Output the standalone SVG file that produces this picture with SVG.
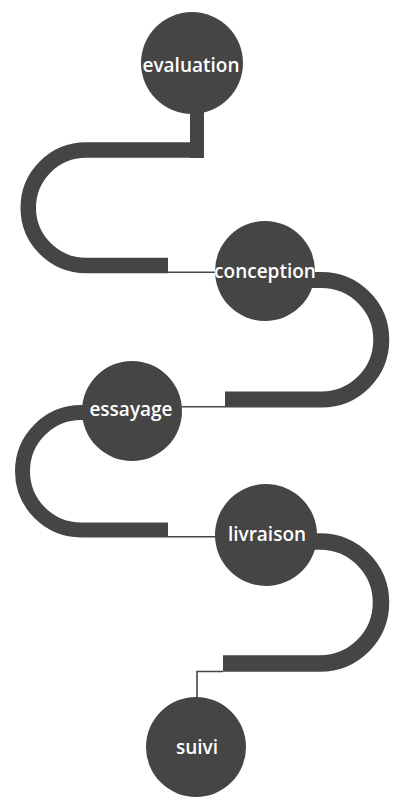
<svg xmlns="http://www.w3.org/2000/svg" width="408" height="800" viewBox="0 0 408 800">
<style>
.band{fill:none;stroke:#454545;stroke-linecap:butt;stroke-linejoin:miter}
.thin{fill:none;stroke:#454545;stroke-width:1.6}
.node circle{fill:#454545}
.node text{fill:#ffffff;font-family:"Open Sans","Noto Sans","DejaVu Sans",sans-serif;font-size:19px;font-weight:600;text-anchor:middle}
</style>
<rect width="408" height="800" fill="#ffffff"/>
<g id="connectors">
<rect x="190" y="105" width="14" height="53" fill="#454545"/>
<path class="band" stroke-width="15.5" d="M204,150 H86 A57.75,57.75 0 0 0 86,265.5 H168"/>
<path class="thin" d="M168,272.2 H216"/>
<path class="band" stroke-width="16" d="M300,280 H321.5 A59.75,59.75 0 0 1 321.5,399.5 H225"/>
<path class="thin" d="M225,406.7 H182"/>
<path class="band" stroke-width="15" d="M110,412.5 H81.25 A58.75,58.75 0 0 0 81.25,530 H168"/>
<path class="thin" d="M168,536.7 H216"/>
<path class="band" stroke-width="16.5" d="M300,541.5 H320 A61,61 0 0 1 320,663.5 H223"/>
<path class="thin" d="M223,671.5 H197 V698"/>
</g>
<g id="node-evaluation" class="node"><circle cx="192" cy="63" r="51"/><text x="191" y="72">evaluation</text></g>
<g id="node-conception" class="node"><circle cx="265" cy="271" r="50"/><text x="265" y="278">conception</text></g>
<g id="node-essayage" class="node"><circle cx="132" cy="411" r="50"/><text x="131" y="416">essayage</text></g>
<g id="node-livraison" class="node"><circle cx="266" cy="535" r="51"/><text x="267" y="541">livraison</text></g>
<g id="node-suivi" class="node"><circle cx="196" cy="747" r="50"/><text x="197" y="754">suivi</text></g>
</svg>
